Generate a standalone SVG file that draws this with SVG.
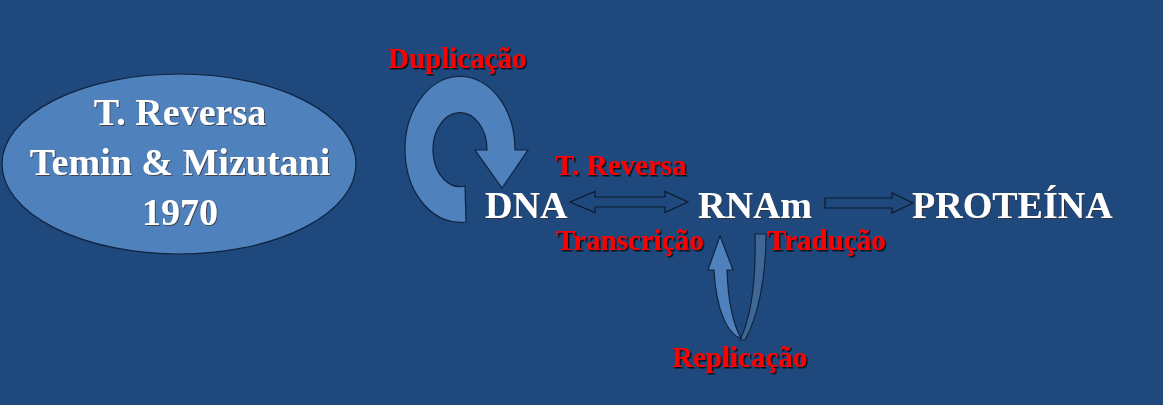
<svg xmlns="http://www.w3.org/2000/svg" width="1163" height="405" viewBox="0 0 1163 405">
<defs>
<style>
.w{font-family:"Liberation Serif","Times New Roman",serif;font-weight:bold;font-size:38px;fill:#fff;filter:url(#ws)}
.r{font-family:"Liberation Serif","Times New Roman",serif;font-weight:bold;font-size:29px;fill:#ff0000;filter:url(#rs)}
.shape{stroke:#10233d;stroke-width:1.2}
.hollow{fill:#1f497d;stroke:#0c1a2c;stroke-width:1.2}
</style>
<filter id="rs" x="-10%" y="-20%" width="120%" height="150%"><feDropShadow dx="1.5" dy="1.5" stdDeviation="0.6" flood-color="#000" flood-opacity="0.8"/></filter>
<filter id="ws" x="-10%" y="-20%" width="120%" height="150%"><feDropShadow dx="1" dy="1" stdDeviation="0.5" flood-color="#3a2a20" flood-opacity="0.7"/></filter>
</defs>
<rect width="1163" height="405" fill="#1f497d"/>
<g id="ellipse-node">
<ellipse cx="179" cy="164" rx="177" ry="90" fill="#4f81bd" class="shape"/>
<text class="w" x="180" y="125" text-anchor="middle">T. Reversa</text>
<text class="w" x="180" y="175" text-anchor="middle">Temin &amp; Mizutani</text>
<text class="w" x="180" y="225" text-anchor="middle">1970</text>
</g>
<g id="connectors">
<path id="dup-arrow" class="shape" fill="#4f81bd" d="M 466 222 A 55 73 0 1 1 515 150 L 528 150 L 502 188 L 475 150 L 487 150 A 27 37 0 1 0 465 186 Z"/>
<path id="dna-rna" class="hollow" d="M 570 202 L 595 191.5 L 595 197 L 665 197 L 665 191.5 L 688 202 L 665 212.5 L 665 207 L 595 207 L 595 212.5 Z"/>
<path id="rna-prot" class="hollow" d="M 825 198 L 892 198 L 892 193 L 913 203 L 892 213 L 892 208 L 825 208 Z"/>
<path id="rep-back" class="shape" fill="#3e6796" d="M 755 234 L 766 234 C 766 275 759 315 745 340 L 740 340 C 752 315 756 275 755 234 Z"/>
<path id="rep-front" class="shape" fill="#4f81bd" d="M 708 270 L 720 236 L 733 270 L 727 270 C 728 300 732 322 741 338 C 728 335 716 310 714 270 Z"/>
</g>
<g id="node-dna"><text class="w" x="485" y="218">DNA</text></g>
<g id="node-rnam"><text class="w" x="698" y="218">RNAm</text></g>
<g id="node-proteina"><text class="w" x="912" y="218">PROTEÍNA</text></g>
<g id="labels">
<text class="r" x="388" y="68">Duplicação</text>
<text class="r" x="555" y="175">T. Reversa</text>
<text class="r" x="556" y="250">Transcrição</text>
<text class="r" x="767" y="250">Tradução</text>
<text class="r" x="672" y="367">Replicação</text>
</g>
</svg>
